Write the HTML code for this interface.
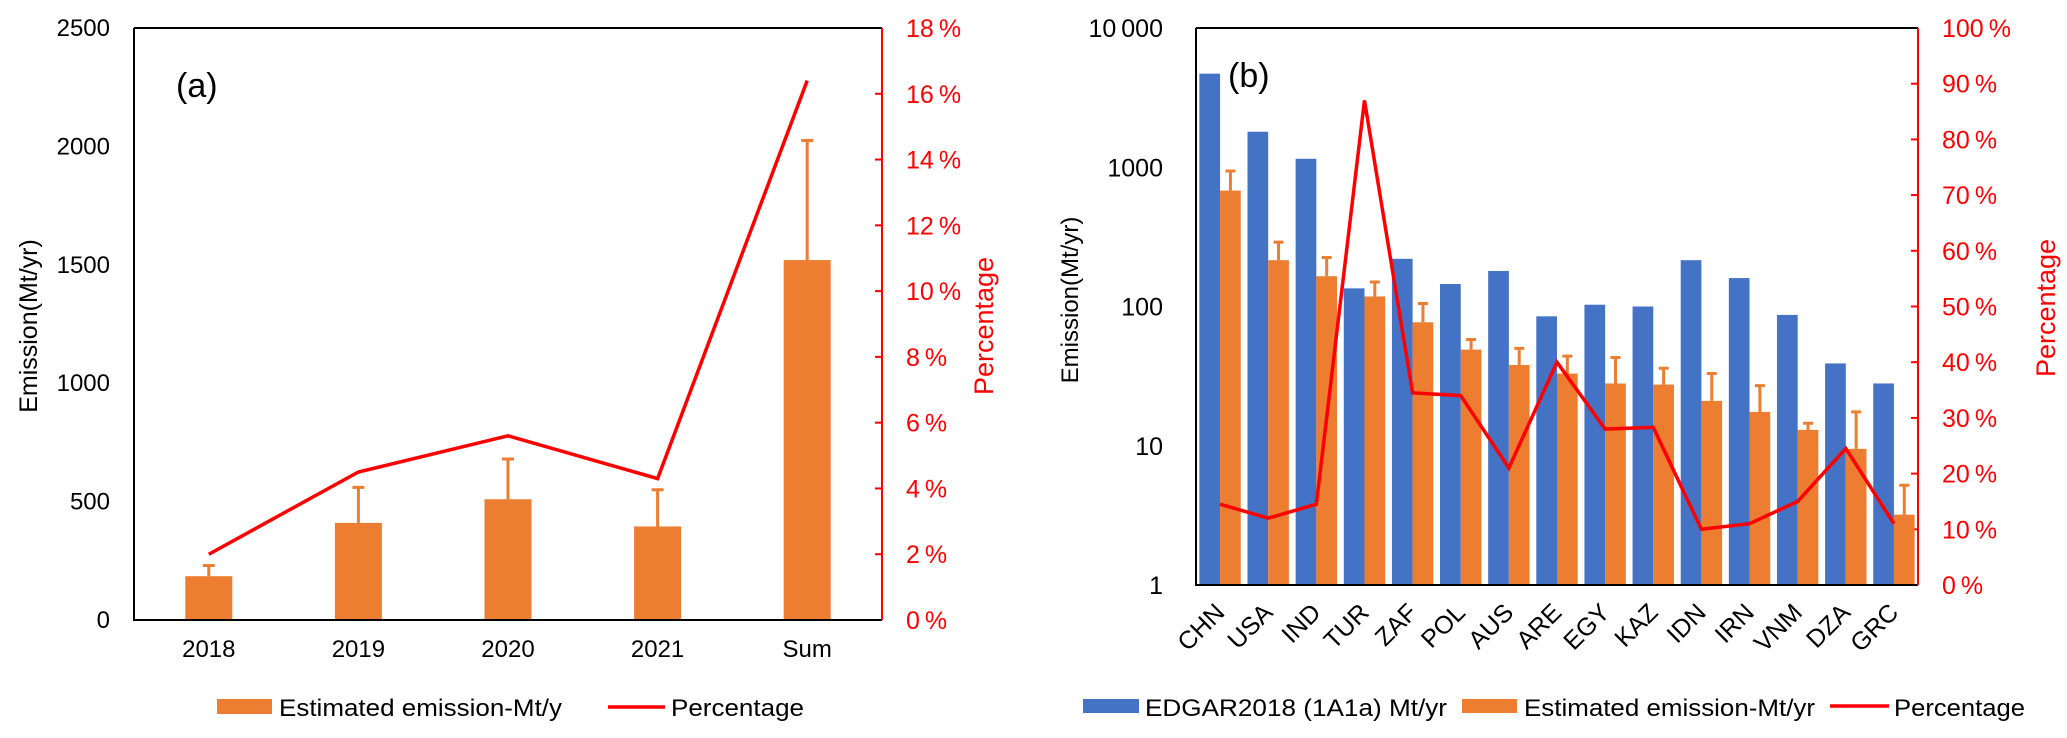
<!DOCTYPE html>
<html><head><meta charset="utf-8"><style>
body{margin:0;background:#fff;}
svg{display:block;font-family:"Liberation Sans",Arial,sans-serif;}
</style></head><body>
<svg id="fig" width="2067" height="738" viewBox="0 0 2067 738" xmlns="http://www.w3.org/2000/svg">
<g id="ga"></g>
<g id="gb"></g>
</svg>
<script>
// Chart (a) data
const aCats = ["2018","2019","2020","2021","Sum"];
const aVals = [185, 410, 510, 395, 1520];
const aErrTop = [230, 560, 680, 550, 2025];
const aPct = [2.0, 4.5, 5.6, 4.3, 16.4];
const aLeftTicks = [0,500,1000,1500,2000,2500];
const aRightTicks = [0,2,4,6,8,10,12,14,16,18];
// Chart (b) data
const bCats = ["CHN","USA","IND","TUR","ZAF","POL","AUS","ARE","EGY","KAZ","IDN","IRN","VNM","DZA","GRC"];
const bEdgar = [4700,1800,1150,135,220,145,180,85,103,100,215,160,87,39,28];
const bEst = [680,215,165,118,77,49,38,33,28,27.5,21,17.5,13,9.5,3.2];
const bErrTop = [940,290,225,150,105,58,50,44,43,36,33,27,14.5,17.5,5.2];
const bPct = [14.5,12,14.5,87,34.5,34,21,40,28,28.3,10,11,15,24.5,11];
const bLeftTicks = [1,10,100,1000,10000];
const bLeftLabels = ["1","10","100","1000","10\u2009000"];
const bRightTicks = [0,10,20,30,40,50,60,70,80,90,100];

const NS="http://www.w3.org/2000/svg";
function mk(parent,tag,attrs,text){const e=document.createElementNS(NS,tag);for(const k in attrs)e.setAttribute(k,attrs[k]);if(text!==undefined)e.textContent=text;parent.appendChild(e);return e;}
const ORANGE="#ED7D31",BLUE="#4472C4",RED="#FF0000";

// ---------- Chart A ----------
(function(){
const g=document.getElementById('ga');
const L=134,R=882,T=28,B=620;
const y=v=>B-(v/2500)*(B-T);
const yr=p=>B-(p/18)*(B-T);
const bw=(R-L)/aCats.length;
const xc=i=>L+bw*(i+0.5);
aLeftTicks.forEach(t=>{
  const e=mk(g,'text',{x:110,y:y(t)+8,'text-anchor':'end','font-size':24,fill:'#000'},String(t));
  
  
});
aRightTicks.forEach(t=>{
  const l=mk(g,'line',{x1:R,x2:R-7,y1:yr(t),y2:yr(t),stroke:RED,'stroke-width':2});
  
  
  const e=mk(g,'text',{x:906,y:yr(t)+9,'font-size':25,fill:RED},t+'\u2009%');
  
  
});
aCats.forEach((c,i)=>{
  const x=xc(i);
  const r=mk(g,'rect',{x:x-23.5,y:y(aVals[i]),width:47,height:B-y(aVals[i]),fill:ORANGE});
  
  
  const eb=mk(g,'path',{d:`M${x},${y(aVals[i])}V${y(aErrTop[i])}M${x-6},${y(aErrTop[i])}H${x+6}`,stroke:ORANGE,'stroke-width':3,fill:'none'});
  
  
  const t=mk(g,'text',{x:x,y:657,'text-anchor':'middle','font-size':24,fill:'#000'},c);
  
  
});
const ln=mk(g,'polyline',{points:aPct.map((p,i)=>xc(i)+','+yr(p)).join(' '),fill:'none',stroke:RED,'stroke-width':3.5});


const ax=mk(g,'path',{d:`M${L},${T}H${R}M${L},${T}V${B}H${R}`,stroke:'#000','stroke-width':2,fill:'none'});


const ra=mk(g,'line',{x1:R,x2:R,y1:T,y2:B,stroke:RED,'stroke-width':2});


const pl=mk(g,'text',{x:176,y:97,'font-size':34,fill:'#000'},'(a)');


const yt=mk(g,'text',{x:0,y:0,transform:'translate(37,326) rotate(-90)','text-anchor':'middle','font-size':25,fill:'#000'},'Emission(Mt/yr)');


const rt=mk(g,'text',{x:0,y:0,transform:'translate(993,326) rotate(-90)','text-anchor':'middle','font-size':27,fill:RED},'Percentage');


const lg=mk(g,'g',{});


mk(lg,'rect',{x:217,y:699,width:55,height:15,fill:ORANGE});
mk(lg,'text',{x:279,y:716,'font-size':24,textLength:283,lengthAdjust:'spacingAndGlyphs'},'Estimated emission-Mt/y');
mk(lg,'line',{x1:608,x2:665,y1:707,y2:707,stroke:RED,'stroke-width':3.5});
mk(lg,'text',{x:671,y:716,'font-size':24,textLength:133,lengthAdjust:'spacingAndGlyphs'},'Percentage');
})();

// ---------- Chart B ----------
(function(){
const g=document.getElementById('gb');
const L=1196,R=1918,T=28,B=585;
const y=v=>B-(Math.log10(v)/4)*(B-T);
const yr=p=>B-(p/100)*(B-T);
const gw=(R-L)/bCats.length;
const xc=i=>L+gw*(i+0.5);
const bw=gw*0.43;
bLeftTicks.forEach((t,i)=>{
  const e=mk(g,'text',{x:1163,y:y(t)+9,'text-anchor':'end','font-size':25,fill:'#000'},bLeftLabels[i]);
  
  
});
bRightTicks.forEach(t=>{
  const l=mk(g,'line',{x1:R,x2:R-7,y1:yr(t),y2:yr(t),stroke:RED,'stroke-width':2});
  
  
  const e=mk(g,'text',{x:1942,y:yr(t)+9,'font-size':25,fill:RED},t+'\u2009%');
  
  
});
bCats.forEach((c,i)=>{
  const x=xc(i);
  const b1=mk(g,'rect',{x:x-bw,y:y(bEdgar[i]),width:bw,height:B-y(bEdgar[i]),fill:BLUE});
  
  
  const b2=mk(g,'rect',{x:x,y:y(bEst[i]),width:bw,height:B-y(bEst[i]),fill:ORANGE});
  
  
  const ex=x+bw/2;
  const eb=mk(g,'path',{d:`M${ex},${y(bEst[i])}V${y(bErrTop[i])}M${ex-5},${y(bErrTop[i])}H${ex+5}`,stroke:ORANGE,'stroke-width':3,fill:'none'});
  
  
  const t=mk(g,'text',{x:0,y:0,transform:`translate(${x+6},${614}) rotate(-45)`,'text-anchor':'end','font-size':25,fill:'#000'},c);
  
  
});
const ln=mk(g,'polyline',{points:bPct.map((p,i)=>xc(i)+','+yr(p)).join(' '),fill:'none',stroke:RED,'stroke-width':3.5});


const ax=mk(g,'path',{d:`M${L},${T}H${R}M${L},${T}V${B}H${R}`,stroke:'#000','stroke-width':2,fill:'none'});


const ra=mk(g,'line',{x1:R,x2:R,y1:T,y2:B,stroke:RED,'stroke-width':2});


const pl=mk(g,'text',{x:1228,y:87,'font-size':34,fill:'#000'},'(b)');


const yt=mk(g,'text',{x:0,y:0,transform:'translate(1078,300) rotate(-90)','text-anchor':'middle','font-size':24,fill:'#000'},'Emission(Mt/yr)');


const rt=mk(g,'text',{x:0,y:0,transform:'translate(2055,308) rotate(-90)','text-anchor':'middle','font-size':27,fill:RED},'Percentage');


const lg=mk(g,'g',{});


mk(lg,'rect',{x:1083,y:699,width:56,height:14,fill:BLUE});
mk(lg,'text',{x:1145,y:716,'font-size':24,textLength:302,lengthAdjust:'spacingAndGlyphs'},'EDGAR2018 (1A1a) Mt/yr');
mk(lg,'rect',{x:1462,y:699,width:55,height:14,fill:ORANGE});
mk(lg,'text',{x:1524,y:716,'font-size':24,textLength:291,lengthAdjust:'spacingAndGlyphs'},'Estimated emission-Mt/yr');
mk(lg,'line',{x1:1830,x2:1889,y1:706,y2:706,stroke:RED,'stroke-width':3.5});
mk(lg,'text',{x:1894,y:716,'font-size':24,textLength:131,lengthAdjust:'spacingAndGlyphs'},'Percentage');
})();
</script>
</body></html>
